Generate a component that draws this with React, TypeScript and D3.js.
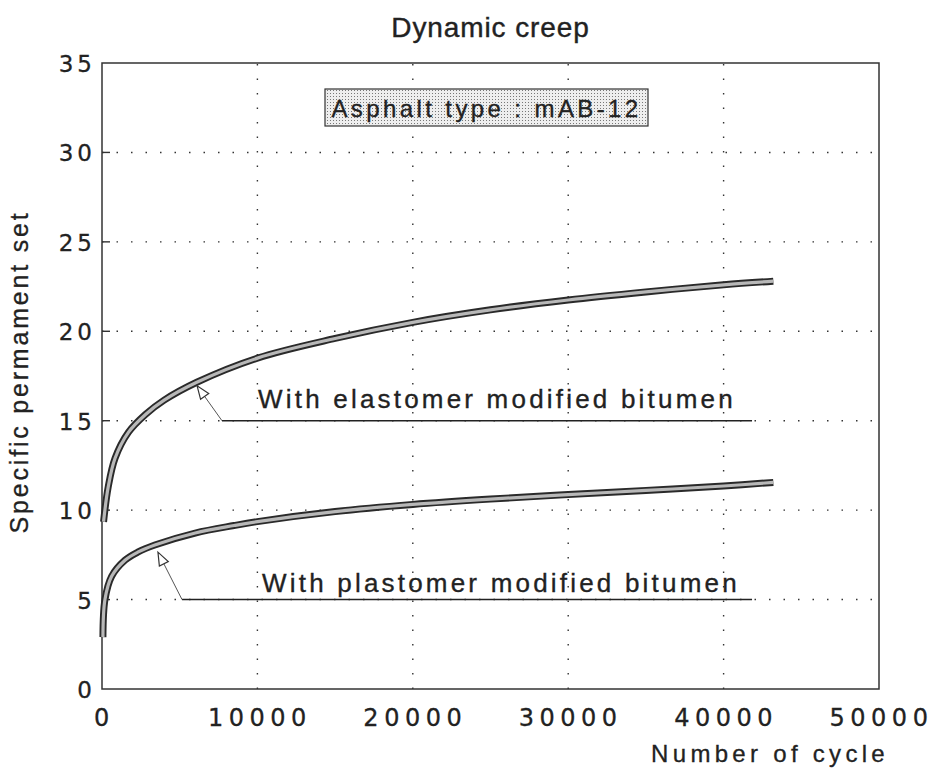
import React from "react";
import * as d3 from "d3";

const elastomerCycles = [100, 400, 840, 1700, 2800, 4000, 6100, 10000, 15000, 20000, 25000, 30000, 35000, 40000, 43200];
const elastomerValues = [9.35, 11.3, 12.9, 14.35, 15.35, 16.15, 17.15, 18.5, 19.6, 20.5, 21.2, 21.75, 22.2, 22.6, 22.8];
const plastomerCycles = [60, 190, 620, 1480, 2300, 3400, 6000, 8500, 10000, 15000, 20000, 25000, 30000, 35000, 40000, 43200];
const plastomerValues = [2.9, 5.0, 6.3, 7.2, 7.65, 8.05, 8.72, 9.14, 9.36, 9.92, 10.32, 10.62, 10.87, 11.1, 11.35, 11.55];

const xTicks = [0, 10000, 20000, 30000, 40000, 50000];
const yTicks = [0, 5, 10, 15, 20, 25, 30, 35];

const titleText = "Dynamic creep";
const xLabel = "Number of cycle";
const yLabel = "Specific permament set";
const legendText = "Asphalt type : mAB-12";
const elastomerLabel = "With elastomer modified bitumen";
const plastomerLabel = "With plastomer modified bitumen";

// annotation anchors in data units: [arrow tip x, tip y, elbow x, line y, line end x, text x, text y]
const elastomerNote = [6120, 16.95, 7720, 15, 41830, 10040, 15.7];
const plastomerNote = [3600, 7.65, 5150, 5, 41830, 10300, 5.42];

const W = 941;
const H = 770;
const M = { left: 102, top: 63, right: 62, bottom: 81 };
const FONT = "'Liberation Sans', Arial, sans-serif";
const NUMFONT = "'DejaVu Sans', sans-serif";
const INK = "#222";

export default function App() {
  const x = d3.scaleLinear().domain([0, 50000]).range([M.left, W - M.right]);
  const y = d3.scaleLinear().domain([0, 35]).range([H - M.bottom, M.top]);
  const line = d3
    .line<[number, number]>()
    .x((d) => x(d[0]))
    .y((d) => y(d[1]))
    .curve(d3.curveCatmullRom.alpha(0.5));

  const eData = elastomerCycles.map((c, i) => [c, elastomerValues[i]] as [number, number]);
  const pData = plastomerCycles.map((c, i) => [c, plastomerValues[i]] as [number, number]);

  const x0 = x(0), x1 = x(50000), y0 = y(0), y1 = y(35);

  const note = (n: number[], label: string) => {
    const tx = x(n[0]), ty = y(n[1]);
    const ex = x(n[2]), ly = y(n[3]);
    const lx = x(n[4]);
    const dx = ex - tx, dy = ly - ty;
    const len = Math.hypot(dx, dy);
    const ux = dx / len, uy = dy / len;
    const nx = -uy, ny = ux;
    const L = 13, Wd = 5;
    const a = `M${tx},${ty}L${tx + ux * L + nx * Wd},${ty + uy * L + ny * Wd}L${tx + ux * L - nx * Wd},${ty + uy * L - ny * Wd}Z`;
    return (
      <g>
        <line x1={tx + ux * L} y1={ty + uy * L} x2={ex} y2={ly} stroke="#555" strokeWidth={1} />
        <line x1={ex} y1={ly} x2={lx} y2={ly} stroke="#222" strokeWidth={1.6} />
        <path d={a} fill="#fff" stroke="#333" strokeWidth={1.2} />
        <text x={x(n[5])} y={y(n[6])} fontFamily={FONT} fontSize={26} letterSpacing={3.2} fill={INK} stroke={INK} strokeWidth={0.35}>
          {label}
        </text>
      </g>
    );
  };

  return (
    <svg width={W} height={H} style={{ position: "absolute", left: 0, top: 0, background: "#fff" }}>
      <defs>
        <pattern id="dots" width="3" height="3" patternUnits="userSpaceOnUse">
          <rect width="3" height="3" fill="#eeeeee" />
          <rect width="1" height="1" fill="#777" />
        </pattern>
      </defs>
      <rect width={W} height={H} fill="#fff" />
      {/* grid */}
      {xTicks.slice(1, -1).map((t) => (
        <line key={"gx" + t} x1={x(t)} x2={x(t)} y1={y0} y2={y1} stroke="#333" strokeWidth={1.4} strokeDasharray="1.5,13" />
      ))}
      {yTicks.slice(1, -1).map((t) => (
        <line key={"gy" + t} x1={x0} x2={x1} y1={y(t)} y2={y(t)} stroke="#333" strokeWidth={1.4} strokeDasharray="1.5,13" />
      ))}
      {/* inner ticks */}
      {yTicks.slice(1, -1).map((t) => (
        <line key={"ty" + t} x1={x0} x2={x0 + 8} y1={y(t)} y2={y(t)} stroke="#333" strokeWidth={1.4} />
      ))}
      {/* frame */}
      <rect x={x0} y={y1} width={x1 - x0} height={y0 - y1} fill="none" stroke="#333" strokeWidth={1.5} />

      {/* legend box */}
      <rect x={325} y={89} width={323} height={37} fill="url(#dots)" stroke="#333" strokeWidth={1.2} />
      <text x={486.5} y={117} textAnchor="middle" fontFamily={FONT} fontSize={24} letterSpacing={3.4} fill={INK} stroke={INK} strokeWidth={0.35}>
        {legendText}
      </text>

      {/* curves */}
      {[eData, pData].map((d, i) => (
        <g key={"c" + i}>
          <path d={line(d) || ""} fill="none" stroke="#2a2a2a" strokeWidth={7} />
          <path d={line(d) || ""} fill="none" stroke="#b8b8b8" strokeWidth={3.2} />
        </g>
      ))}

      {note(elastomerNote, elastomerLabel)}
      {note(plastomerNote, plastomerLabel)}

      {/* tick labels */}
      {yTicks.map((t) => (
        <text key={"ly" + t} x={96} y={y(t) + 9} textAnchor="end" fontFamily={NUMFONT} fontSize={23} letterSpacing={4} fill={INK} stroke={INK} strokeWidth={0.3}>
          {t}
        </text>
      ))}
      {xTicks.map((t) => (
        <text key={"lx" + t} x={x(t) + 2.5} y={726} textAnchor="middle" fontFamily={NUMFONT} fontSize={24} letterSpacing={5.5} fill={INK} stroke={INK} strokeWidth={0.3}>
          {t}
        </text>
      ))}

      {/* titles */}
      <text x={(x0 + x1) / 2} y={37} textAnchor="middle" fontFamily={FONT} fontSize={28} letterSpacing={0.9} fill={INK} stroke={INK} strokeWidth={0.4}>
        {titleText}
      </text>
      <text x={889} y={762} textAnchor="end" fontFamily={FONT} fontSize={24} letterSpacing={4.3} fill={INK} stroke={INK} strokeWidth={0.3}>
        {xLabel}
      </text>
      <text
        transform={`translate(28,${(y0 + y1) / 2 - 4}) rotate(-90)`}
        textAnchor="middle"
        fontFamily={FONT}
        fontSize={25}
        letterSpacing={2.8}
        fill={INK}
        stroke={INK}
        strokeWidth={0.3}
      >
        {yLabel}
      </text>
    </svg>
  );
}
